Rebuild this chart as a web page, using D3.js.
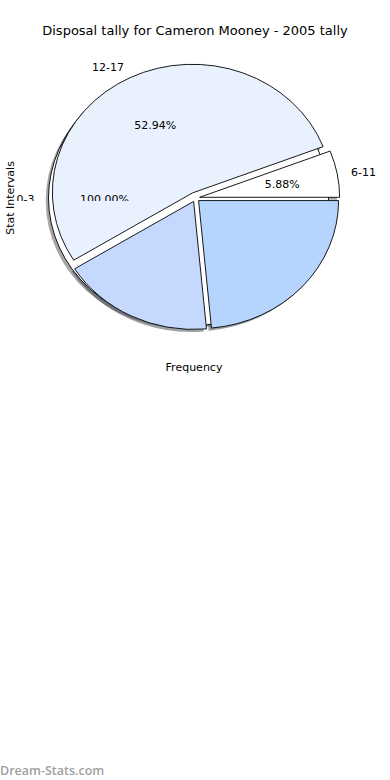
<!DOCTYPE html>
<html>
<head>
<meta charset="utf-8">
<script src="https://cdn.jsdelivr.net/npm/d3@7"></script>
<style>
  body { margin: 0; background: #ffffff; }
  svg text { font-family: "DejaVu Sans", sans-serif; }
</style>
</head>
<body>
<script>
// Disposal tally per stat interval (games), plus the single-interval base pie
const categories = ["6-11", "12-17", "18-23", "24-29"];
const games = [1, 9, 3, 4];
const sliceColors = ["#ffffff", "#eaf1fe", "#c5d8fe", "#b5d5fe"];
const explode = [0.03, 0.045, 0.03, 0.03];

const baseCategories = ["0-3"];
const baseGames = [1];
const baseColors = ["#ffffff"];
const baseExplode = [0.05];

const titleText = "Disposal tally for Cameron Mooney - 2005 tally";
const xLabel = "Frequency";
const yLabel = "Stat Intervals";

const W = 390, H = 780;
const svg = d3.select("body").append("svg")
  .attr("width", W).attr("height", H);

// Data space of the pie axes: unit radius maps onto an ellipse
const x = d3.scaleLinear().domain([-1, 1]).range([55.5, 335.5]);
const y = d3.scaleLinear().domain([-1, 1]).range([326, 70]);
const rx = x(1) - x(0), ry = y(0) - y(1);

const pct = d3.format(".2f");
const labelClipY = 201;

svg.append("defs").append("clipPath").attr("id", "label-clip")
  .append("rect").attr("x", 0).attr("y", 0).attr("width", W).attr("height", labelClipY);

// Angles run counter-clockwise from 3 o'clock
const pie = d3.pie().sort(null).startAngle(Math.PI / 2).endAngle(Math.PI / 2 - 2 * Math.PI);
const arc = d3.arc().innerRadius(0).outerRadius(1);

function layout(values, names, colors, expl) {
  const total = d3.sum(values);
  return pie(values).map((d, i) => {
    const mid = (d.startAngle + d.endAngle) / 2;
    const ox = expl[i] * Math.sin(mid), oy = expl[i] * Math.cos(mid);
    return { d, i, mid, ox, oy, name: names[i], color: colors[i],
             share: values[i] / total * 100 };
  });
}

const base = layout(baseGames, baseCategories, baseColors, baseExplode);
const main = layout(games, categories, sliceColors, explode);
const all = base.concat(main);

function shade(c) {
  const r = d3.rgb(c);
  return d3.rgb(r.r * 0.3, r.g * 0.3, r.b * 0.3).toString();
}

// Shadows sit beneath every wedge
const shadowG = svg.append("g");
shadowG.selectAll("path").data(all).join("path")
  .attr("transform", s => `translate(${x(s.ox - 0.02)},${y(s.oy - 0.02)}) scale(${rx},${ry})`)
  .attr("d", s => arc(s.d))
  .attr("fill", s => shade(s.color))
  .attr("fill-opacity", 0.5);

const wedgeG = svg.append("g");
wedgeG.selectAll("path").data(all).join("path")
  .attr("transform", s => `translate(${x(s.ox)},${y(s.oy)}) scale(${rx},${ry})`)
  .attr("d", s => arc(s.d))
  .attr("fill", s => s.color)
  .attr("stroke", "#000")
  .attr("stroke-width", 0.9)
  .attr("vector-effect", "non-scaling-stroke");

// Category and percentage labels
const labelG = svg.append("g").attr("clip-path", "url(#label-clip)")
  .attr("font-size", 11).attr("fill", "#000");

const cats = all.map(s => ({
  text: s.name,
  px: x(s.ox + 1.1 * Math.sin(s.mid)),
  py: y(s.oy + 1.1 * Math.cos(s.mid)),
  anchor: Math.sin(s.mid) > 0 ? "start" : "end"
}));
const pcts = all.map(s => ({
  text: pct(s.share) + "%",
  px: x(s.ox + 0.6 * Math.sin(s.mid)),
  py: y(s.oy + 0.6 * Math.cos(s.mid)),
  anchor: "middle"
}));

labelG.selectAll("text").data(cats.concat(pcts).filter(t => t.py - 5 < labelClipY)).join("text")
  .attr("x", t => t.px).attr("y", t => t.py + 1)
  .attr("text-anchor", t => t.anchor)
  .attr("dominant-baseline", "central")
  .text(t => t.text);

// Title and axis labels
svg.append("text").attr("x", 195).attr("y", 30)
  .attr("text-anchor", "middle").attr("dominant-baseline", "central")
  .attr("font-size", 13).attr("fill", "#000").text(titleText);

svg.append("text").attr("x", 194).attr("y", 367)
  .attr("text-anchor", "middle").attr("dominant-baseline", "central")
  .attr("font-size", 11).attr("fill", "#000").text(xLabel);

svg.append("text").attr("transform", "translate(10,198) rotate(-90)")
  .attr("text-anchor", "middle").attr("dominant-baseline", "central")
  .attr("font-size", 11).attr("fill", "#000").text(yLabel);

// Site credit
svg.append("text").attr("x", 0).attr("y", 770)
  .attr("dominant-baseline", "central")
  .style("font-family", "'Open Sans', sans-serif")
  .attr("font-size", 12.5).attr("font-weight", 600).attr("fill", "#a0a0a0")
  .text("Dream-Stats.com");
</script>
</body>
</html>
